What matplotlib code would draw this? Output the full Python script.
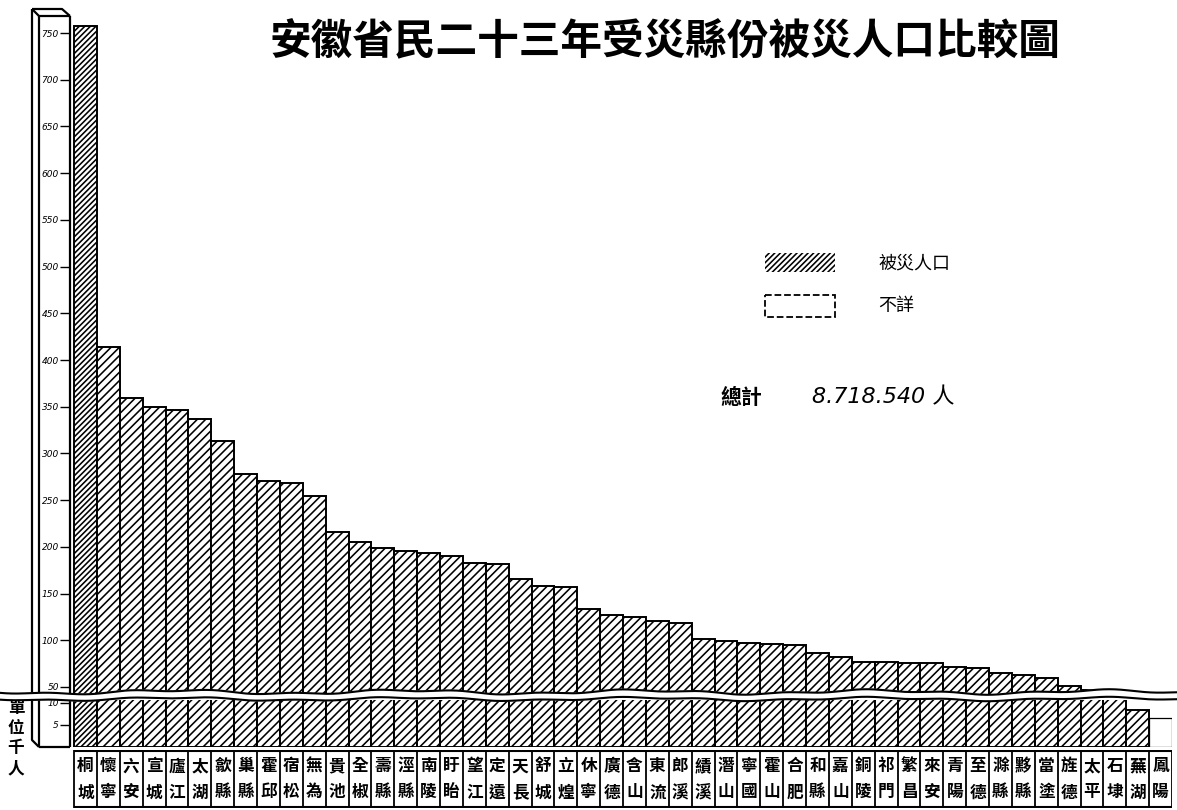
import numpy as np
import matplotlib
matplotlib.use('Agg')
import matplotlib.pyplot as plt
from matplotlib.patches import Rectangle

# ---------------- data ----------------
counties = ['桐城', '懷寧', '六安', '宣城', '廬江', '太湖', '歙縣', '巢縣', '霍邱', '宿松',
            '無為', '貴池', '全椒', '壽縣', '涇縣', '南陵', '盱眙', '望江', '定遠', '天長',
            '舒城', '立煌', '休寧', '廣德', '含山', '東流', '郎溪', '績溪', '潛山', '寧國',
            '霍山', '合肥', '和縣', '嘉山', '銅陵', '祁門', '繁昌', '來安', '青陽', '至德',
            '滁縣', '黟縣', '當塗', '旌德', '太平', '石埭', '蕪湖', '鳳陽']
population = [758, 414, 359, 350, 347, 337, 313, 278, 271, 268,
              254, 216, 205, 199, 196, 193, 190, 183, 182, 166,
              158, 157, 134, 127, 125, 121, 119, 101, 99, 97,
              96, 95, 86, 82, 77, 77, 76, 76, 71, 70,
              65, 63, 60, 51, 47, 45, 8.4, 6.6]   # thousands of people
unknown = ['鳳陽']
upper_ticks = list(range(50, 751, 50))
lower_ticks = [5, 10]
title = '安徽省民二十三年受災縣份被災人口比較圖'
legend_labels = ['被災人口', '不詳']
total_label = '總計'
total_value = '8.718.540 人'
unit_label = '單位千人'

plt.rcParams['font.family'] = ['Noto Sans CJK TC', 'DejaVu Sans']
plt.rcParams['hatch.linewidth'] = 1.15

W, H = 1177, 810
fig = plt.figure(figsize=(W / 100, H / 100), dpi=100)
fig.patch.set_facecolor('white')


def rect(x0, y0, x1, y1):
    return [x0 / W, 1 - y1 / H, (x1 - x0) / W, (y1 - y0) / H]


AX_L, AX_R = 70, 1172
n = len(counties)
xlim = (-0.175, n)

ax_up = fig.add_axes(rect(AX_L, 20, AX_R, 695))
ax_lo = fig.add_axes(rect(AX_L, 700, AX_R, 747))
ax_lab = fig.add_axes(rect(AX_L, 750, AX_R, 808))

k_up = 654 / 700.0
k_lo = 4.4
ax_up.set_ylim(50 - 8 / k_up, 750 + 13 / k_up)
ax_lo.set_ylim(0, 47 / k_lo)

x = np.arange(n) + 0.5
for ax in (ax_up, ax_lo):
    bars = ax.bar(x, population, width=1.0, color='white', edgecolor='black',
                  linewidth=1.4, hatch='////')
    for name, b in zip(counties, bars):
        if name in unknown:
            b.set_hatch('')
            b.set_linewidth(0.9)
        elif name == counties[0]:
            b.set_hatch('//////')
    ax.set_xlim(*xlim)
    for s in ax.spines.values():
        s.set_visible(False)
    ax.set_xticks([])
    ax.tick_params(axis='y', direction='out', length=7, width=1.0, pad=1,
                   labelsize=6.5)
    ax.patch.set_visible(False)

ax_up.set_yticks(upper_ticks)
ax_up.set_yticklabels([str(t) for t in upper_ticks], family='DejaVu Sans',
                      style='italic', fontsize=6.5)
ax_lo.set_yticks(lower_ticks)
ax_lo.set_yticklabels([str(t) for t in lower_ticks], family='DejaVu Sans',
                      style='italic', fontsize=6.5)

# label row
ax_lab.set_xlim(*xlim)
ax_lab.set_ylim(0, 1)
ax_lab.axis('off')
ax_lab.vlines(np.arange(0, n + 1), 0, 1, color='black', lw=1.3)
ax_lab.hlines([0.02, 0.98], 0, n, color='black', lw=1.5)
for i, name in enumerate(counties):
    ax_lab.text(i + 0.5, 0.72, name[0], ha='center', va='center',
                fontsize=12, weight='bold')
    ax_lab.text(i + 0.5, 0.27, name[1], ha='center', va='center',
                fontsize=12, weight='bold')

# overlay for decorations
ov = fig.add_axes([0, 0, 1, 1])
ov.set_xlim(0, W)
ov.set_ylim(H, 0)
ov.axis('off')
ov.patch.set_visible(False)

lk = dict(color='black', lw=1.6, solid_capstyle='butt')
# axis column (upper)
ov.plot([32, 32], [9, 694], **lk)
ov.plot([39, 39], [16, 694], **lk)
ov.plot([70, 70], [16, 694], **lk)
ov.plot([32, 62, 70], [9, 9, 16], **lk)
ov.plot([32, 39, 70], [9, 16, 16], **lk)
# axis column (lower)
ov.plot([32, 32, 39], [699, 740, 747], **lk)
ov.plot([39, 39], [699, 747], **lk)
ov.plot([70, 70], [699, 747], **lk)
ov.plot([39, 70], [747, 747], **lk)

# broken-axis wave
xs = np.linspace(0, W, 800)
wave = 1.8 * np.sin(xs / 37.0) + 1.0 * np.sin(xs / 13.0 + 1.0)
ytop = 692 + wave
ybot = 699 + 0.8 * wave
ov.fill_between(xs, ytop, ybot, color='white', zorder=5)
ov.plot(xs, ytop, color='black', lw=1.5, zorder=6)
ov.plot(xs, ybot, color='black', lw=1.5, zorder=6)

# title
ov.text(665, 42, title, ha='center', va='center', fontsize=30, weight='bold')

# legend
ov.add_patch(Rectangle((765, 253), 70, 19, facecolor='white', edgecolor='black',
                       linewidth=0, hatch='//////'))
ov.add_patch(Rectangle((765, 295), 70, 22, fill=False, edgecolor='black',
                       linestyle='--', linewidth=1.3))
ov.text(878, 263, legend_labels[0], ha='left', va='center', fontsize=13)
ov.text(878, 306, legend_labels[1], ha='left', va='center', fontsize=13)

# total
ov.text(720, 397, total_label, ha='left', va='center', fontsize=15, weight='bold')
ov.text(812, 397, total_value, ha='left', va='center', fontsize=16,
        style='italic', family=['DejaVu Sans', 'Noto Sans CJK TC'])

# unit label
ov.text(16, 738, '\n'.join(unit_label), ha='center', va='center', fontsize=12,
        weight='bold', linespacing=1.15)

fig.savefig('out.png', dpi=100, facecolor='white')
